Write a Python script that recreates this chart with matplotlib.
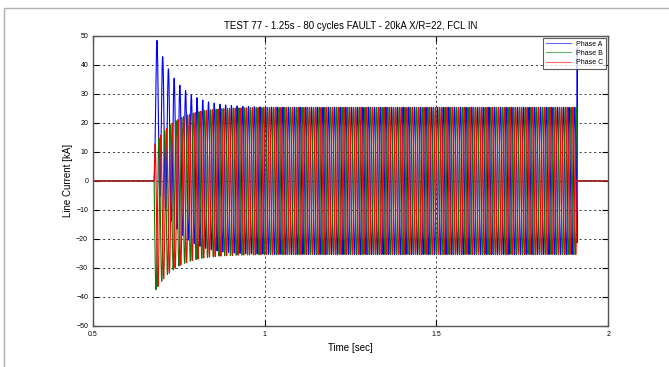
import matplotlib
matplotlib.use('Agg')
import matplotlib.pyplot as plt
import numpy as np

# values
phases = ['Phase A', 'Phase B', 'Phase C']
colors = ['#0000ff', '#008000', '#ff0000']
angle_shift = [0.0, -120.0, 120.0]   # degrees
dc_offset = [26.5, -13.3, -13.3]     # kA at fault inception
fault_start = 0.678                  # s
fault_end = 1.910                    # s
i_ac_peak = 25.4                     # kA, steady peak
tau_dc = 0.060                       # s
freq = 60.0
end_spike_a = 46.0                   # kA, phase A spike at clearing
t_start, t_stop, dt = 0.5, 2.0, 0.0002

plt.rcParams['font.family'] = ['Liberation Sans Narrow', 'Liberation Sans', 'DejaVu Sans']

t = np.arange(t_start, t_stop, dt)
on = (t >= fault_start) & (t <= fault_end)
tf = t - fault_start
w = 2 * np.pi * freq

fig = plt.figure(figsize=(6.69, 3.67), dpi=100)
fig.patches.append(plt.Rectangle((0.006, -0.01), 1.2, 0.988, transform=fig.transFigure,
                                 fill=False, edgecolor='#b0b0b0', linewidth=1.0))
ax = fig.add_axes([0.139, 0.112, 0.770, 0.790])

for name, col, sh, dc in zip(phases, colors, angle_shift, dc_offset):
    phi = np.deg2rad(-90.0 + sh)
    i = i_ac_peak * np.sin(w * tf + phi) + dc * np.exp(-tf / tau_dc)
    i = np.where(on, i, 0.0)
    if name == 'Phase A':
        k = np.nonzero(on)[0][-1]
        i[k] = end_spike_a
    ax.plot(t, i, color=col, linewidth=0.8, label=name)

ax.set_xlim(0.5, 2.0)
ax.set_ylim(-50, 50)
ax.set_xticks([0.5, 1.0, 1.5, 2.0])
ax.set_xticklabels(['0.5', '1', '1.5', '2'])
ax.set_yticks(np.arange(-50, 51, 10))
ax.grid(True, linestyle=(0, (2, 3)), color='#333333', linewidth=0.7)
ax.tick_params(direction='in', top=True, right=True, labelsize=5, length=4, width=0.8)
for s in ax.spines.values():
    s.set_color('#555555')
    s.set_linewidth(1.0)
ax.set_title('TEST 77 - 1.25s - 80 cycles FAULT - 20kA X/R=22, FCL IN', fontsize=7, pad=5)
ax.set_xlabel('Time [sec]', fontsize=7, labelpad=4)
ax.set_ylabel('Line Current [kA]', fontsize=7, labelpad=2)
leg = ax.legend(loc='upper right', fontsize=5, frameon=True, fancybox=False,
                handlelength=3.5, borderpad=0.4, labelspacing=0.3, borderaxespad=0.3)
leg.get_frame().set_edgecolor('#333333')
leg.get_frame().set_linewidth(0.8)
for line in leg.get_lines():
    line.set_alpha(0.6)

fig.savefig('out.png', dpi=100)
